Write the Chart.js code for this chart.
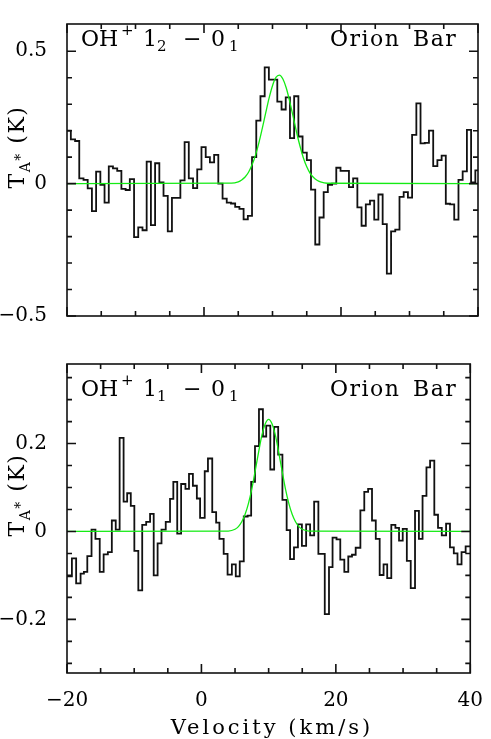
<!DOCTYPE html>
<html>
<head>
<meta charset="utf-8">
<script src="https://cdn.jsdelivr.net/npm/chart.js@4/dist/chart.umd.min.js"></script>
<style>
    body { margin: 0; background: #fff; }
    #wrap { position: relative; width: 491px; height: 739px; overflow: hidden; }
    canvas { position: absolute; left: 0; }
    .t { position: absolute; font-family: 'DejaVu Serif', serif; color: #000; white-space: pre; line-height: 1; }
    .big { font-size: 22px; }
    .small { font-size: 15px; }
    .src { letter-spacing: 1.5px; word-spacing: 4px; }
    .ytitle { font-size: 22px; letter-spacing: 1.5px; transform: translate(-50%, -50%) rotate(-90deg); }
</style>
</head>
<body>
<div id="wrap">
    <canvas id="topChart" width="491" height="340" style="top:0"></canvas>
    <canvas id="botChart" width="491" height="399" style="top:340px"></canvas>

    <!-- top panel labels -->
    <div class="t big" style="left:81px;top:28px">OH</div>
    <div class="t small" style="left:121px;top:23px">+</div>
    <div class="t big" style="left:143px;top:28px">1</div>
    <div class="t small" style="left:157px;top:39px">2</div>
    <div class="t big" style="left:183px;top:28px">−</div>
    <div class="t big" style="left:211px;top:28px">0</div>
    <div class="t small" style="left:229px;top:39px">1</div>
    <div class="t big src" style="left:330px;top:28px">Orion Bar</div>

    <!-- bottom panel labels -->
    <div class="t big" style="left:81px;top:378px">OH</div>
    <div class="t small" style="left:121px;top:373px">+</div>
    <div class="t big" style="left:143px;top:378px">1</div>
    <div class="t small" style="left:157px;top:389px">1</div>
    <div class="t big" style="left:183px;top:378px">−</div>
    <div class="t big" style="left:211px;top:378px">0</div>
    <div class="t small" style="left:229px;top:389px">1</div>
    <div class="t big src" style="left:330px;top:378px">Orion Bar</div>

    <!-- axis titles -->
    <div class="t ytitle" style="left:17px;top:147px">T<span style="font-size:14px;position:relative;top:6px">A<span style="position:relative;top:-5px">*</span></span> (K)</div>
    <div class="t ytitle" style="left:17px;top:495px">T<span style="font-size:14px;position:relative;top:6px">A<span style="position:relative;top:-5px">*</span></span> (K)</div>
    <div class="t" style="font-size:21px;left:272px;top:717px;transform:translateX(-50%);letter-spacing:3px">Velocity (km/s)</div>
</div>

<script>
// OH+ 1_2 - 0_1 : channel left edges (km/s) and antenna temperature (K)
const topVel = [
    -20.05, -19.44, -18.82, -18.21, -17.59, -16.98, -16.36, -15.75, -15.13, -14.52,
    -13.90, -13.29, -12.67, -12.06, -11.44, -10.83, -10.21, -9.60, -8.98, -8.37,
    -7.75, -7.14, -6.52, -5.91, -5.29, -4.68, -4.06, -3.45, -2.83, -2.22,
    -1.60, -0.99, -0.37, 0.25, 0.86, 1.48, 2.09, 2.71, 3.32, 3.94,
    4.55, 5.17, 5.78, 6.40, 7.01, 7.63, 8.24, 8.86, 9.47, 10.09,
    10.70, 11.32, 11.93, 12.55, 13.16, 13.78, 14.39, 15.01, 15.62, 16.24,
    16.85, 17.47, 18.08, 18.70, 19.31, 19.93, 20.54, 21.16, 21.77, 22.39,
    23.00, 23.62, 24.23, 24.85, 25.46, 26.08, 26.69, 27.31, 27.92, 28.54,
    29.15, 29.77, 30.38, 31.00, 31.61, 32.23, 32.84, 33.46, 34.07, 34.69,
    35.30, 35.92, 36.53, 37.15, 37.76, 38.38, 38.99, 39.61, 40.22
];
const topTa = [
    0.200, 0.167, 0.161, 0.020, 0.014, -0.018, -0.104, 0.045, -0.005, -0.072,
    0.065, 0.058, 0.048, -0.020, -0.024, 0.017, -0.202, -0.165, -0.176, 0.083,
    -0.157, 0.077, 0.005, -0.046, -0.180, -0.054, -0.054, 0.012, 0.157, 0.020,
    -0.017, 0.054, 0.138, 0.100, 0.080, 0.109, 0.000, -0.057, -0.072, -0.075,
    -0.088, -0.095, -0.135, -0.122, 0.100, 0.238, 0.330, 0.439, 0.393, 0.393,
    0.310, 0.280, 0.326, 0.172, 0.330, 0.178, 0.117, 0.089, -0.023, -0.230,
    -0.128, -0.032, -0.005, 0.000, 0.060, 0.048, 0.048, -0.013, 0.020, -0.090,
    -0.159, -0.078, -0.064, -0.136, -0.041, -0.153, -0.340, -0.180, -0.174, -0.050,
    -0.032, -0.053, 0.184, 0.303, 0.152, 0.154, 0.200, 0.066, 0.089, 0.106,
    -0.076, -0.078, -0.136, 0.014, 0.046, 0.203, 0.005, 0.050
];

// OH+ 1_1 - 0_1
const botVel = [
    -20.00, -19.27, -18.64, -17.98, -17.48, -16.98, -16.35, -15.77, -15.13, -14.55,
    -13.92, -13.33, -12.75, -12.17, -11.58, -11.05, -10.51, -9.98, -9.39, -8.81,
    -8.22, -7.64, -7.10, -6.52, -5.94, -5.31, -4.67, -4.18, -3.60, -3.02,
    -2.38, -1.85, -1.27, -0.68, -0.20, 0.49, 0.97, 1.61, 2.19, 2.68,
    3.31, 3.89, 4.53, 5.11, 5.70, 6.30, 6.88, 7.40, 7.97, 8.56,
    9.15, 9.64, 10.25, 10.82, 11.42, 12.05, 12.68, 13.19, 13.77, 14.36,
    14.95, 15.58, 16.17, 16.77, 17.40, 17.90, 18.35, 18.98, 19.51, 20.10,
    20.66, 21.26, 21.85, 22.40, 22.95, 23.65, 24.23, 24.80, 25.38, 25.94,
    26.52, 27.10, 27.64, 28.25, 28.86, 29.40, 29.95, 30.56, 31.14, 31.78,
    32.36, 32.90, 33.48, 34.02, 34.65, 35.20, 35.76, 36.40, 36.98, 37.55,
    38.10, 38.70, 39.31, 40.00
];
const botTa = [
    -0.102, -0.061, -0.118, -0.096, -0.092, -0.056, 0.004, -0.017, -0.092, -0.052,
    -0.047, 0.025, 0.004, 0.213, 0.068, 0.087, 0.058, -0.044, -0.134, 0.015,
    0.022, 0.040, -0.100, -0.027, 0.004, 0.022, 0.074, 0.113, -0.005, 0.108,
    0.097, 0.131, 0.104, 0.075, 0.031, 0.137, 0.166, 0.044, 0.020, -0.017,
    -0.051, -0.098, -0.075, -0.102, -0.068, 0.034, 0.036, 0.113, 0.194, 0.278,
    0.216, 0.241, 0.141, 0.238, 0.175, 0.072, 0.003, -0.063, -0.036, 0.016,
    -0.033, 0.016, -0.009, 0.068, -0.051, -0.051, -0.188, -0.081, -0.014, -0.018,
    -0.064, -0.092, -0.057, -0.053, -0.037, 0.048, 0.090, 0.097, 0.025, -0.017,
    -0.099, -0.075, -0.106, 0.015, 0.008, -0.021, 0.006, -0.067, -0.129, 0.047,
    -0.017, 0.081, 0.146, 0.161, 0.038, 0.008, -0.009, 0.018, -0.036, -0.050,
    -0.075, -0.047, -0.034
];

// gaussian fits, sampled off the green curves
const topFitVel = [-20, 4, 5, 5.5, 6, 6.5, 7, 7.5, 8, 8.5, 9, 9.5, 10, 10.5, 11, 11.5, 12, 12.5, 13, 13.5, 14, 14.5, 15, 15.5, 16, 16.5, 17, 18, 40];
const topFitTa = [0, 0.002, 0.007, 0.014, 0.025, 0.043, 0.070, 0.106, 0.153, 0.208, 0.266, 0.323, 0.370, 0.401, 0.410, 0.396, 0.362, 0.312, 0.255, 0.196, 0.143, 0.098, 0.064, 0.039, 0.023, 0.0125, 0.0065, 0.0015, 0];
const botFitVel = [-20, 4, 5, 5.5, 6, 6.5, 7, 7.5, 8, 8.5, 9, 9.5, 10, 10.5, 11, 11.5, 12, 12.5, 13, 13.5, 14, 14.5, 15, 16, 40];
const botFitTa = [0, 0.001, 0.005, 0.011, 0.022, 0.039, 0.064, 0.097, 0.138, 0.180, 0.219, 0.245, 0.255, 0.245, 0.219, 0.180, 0.138, 0.097, 0.064, 0.039, 0.022, 0.011, 0.005, 0.001, 0];

// tick values
const xMajor = [-20, 0, 20, 40];
const xMinor = [-15, -10, -5, 5, 10, 15, 25, 30, 35];
const topYMajor = [-0.5, 0, 0.5];
const topYMinor = [-0.4, -0.3, -0.2, -0.1, 0.1, 0.2, 0.3, 0.4];
const botYMajor = [-0.2, 0, 0.2];
const botYMinor = [-0.3, -0.25, -0.15, -0.1, -0.05, 0.05, 0.1, 0.15, 0.25, 0.3, 0.35];

Chart.defaults.font.family = "'DejaVu Serif', serif";
Chart.defaults.font.size = 20;
Chart.defaults.color = '#000';

function fmt(v) {
    if (Math.abs(v) < 1e-9) return '0';
    return v < 0 ? '\u2212' + Math.abs(v) : String(v);
}

// box around the plot with inward ticks on all four sides
const boxTicks = {
    id: 'boxTicks',
    afterDraw(chart, args, opts) {
        const { ctx, chartArea: a } = chart;
        const sx = chart.scales.x, sy = chart.scales.y;
        ctx.save();
        ctx.strokeStyle = '#111';
        ctx.lineWidth = 1.6;
        ctx.beginPath();
        const xt = (vals, len) => vals.forEach(v => {
            const p = sx.getPixelForValue(v);
            ctx.moveTo(p, a.bottom); ctx.lineTo(p, a.bottom - len);
            ctx.moveTo(p, a.top); ctx.lineTo(p, a.top + len);
        });
        const yt = (vals, len) => vals.forEach(v => {
            const p = sy.getPixelForValue(v);
            ctx.moveTo(a.left, p); ctx.lineTo(a.left + len, p);
            ctx.moveTo(a.right, p); ctx.lineTo(a.right - len, p);
        });
        xt(xMajor, 9); xt(xMinor, 5);
        yt(opts.yMajor, 9); yt(opts.yMinor, 5);
        ctx.stroke();
        ctx.strokeRect(a.left, a.top, a.right - a.left, a.bottom - a.top);
        ctx.restore();
    }
};

function steps(edges, vals) {
    return edges.map((e, i) => ({ x: e, y: vals[Math.min(i, vals.length - 1)] }));
}

function makePanel(id, vel, ta, fitVel, fitTa, yMin, yMax, yMajor, yMinor, showX, padTop, xHeight) {
    const ctx = document.getElementById(id).getContext('2d');
    return new Chart(ctx, {
        type: 'line',
        data: {
            datasets: [{
                data: fitVel.map((v, i) => ({ x: v, y: fitTa[i] })),
                borderColor: 'rgb(20,235,20)',
                borderWidth: 1.3,
                pointRadius: 0,
                cubicInterpolationMode: 'monotone',
                clip: 0,
                order: 1
            }, {
                data: steps(vel, ta),
                stepped: true,
                borderColor: '#111',
                borderWidth: 1.8,
                pointRadius: 0,
                clip: 0,
                order: 2
            }]
        },
        options: {
            responsive: false,
            animation: false,
            events: [],
            layout: { autoPadding: false, padding: { top: padTop, right: 13, left: 0, bottom: 0 } },
            plugins: {
                legend: { display: false },
                tooltip: { enabled: false },
                boxTicks: { yMajor: yMajor, yMinor: yMinor }
            },
            scales: {
                x: {
                    type: 'linear',
                    min: -20,
                    max: 40,
                    grid: { display: false },
                    border: { display: false },
                    afterBuildTicks: s => { s.ticks = xMajor.map(v => ({ value: v })); },
                    ticks: { display: showX, padding: 8, maxRotation: 0, callback: fmt },
                    afterFit: s => { s.height = xHeight; }
                },
                y: {
                    min: yMin,
                    max: yMax,
                    grid: { display: false },
                    border: { display: false },
                    afterBuildTicks: s => { s.ticks = yMajor.map(v => ({ value: v })); },
                    ticks: { padding: 12, callback: fmt },
                    afterFit: s => { s.width = 67; }
                }
            }
        },
        plugins: [boxTicks]
    });
}

makePanel('topChart', topVel, topTa, topFitVel, topFitTa, -0.5, 0.603, topYMajor, topYMinor, false, 2, 18);
makePanel('botChart', botVel, botTa, botFitVel, botFitTa, -0.322, 0.381, botYMajor, botYMinor, true, 12, 66);
</script>
</body>
</html>
